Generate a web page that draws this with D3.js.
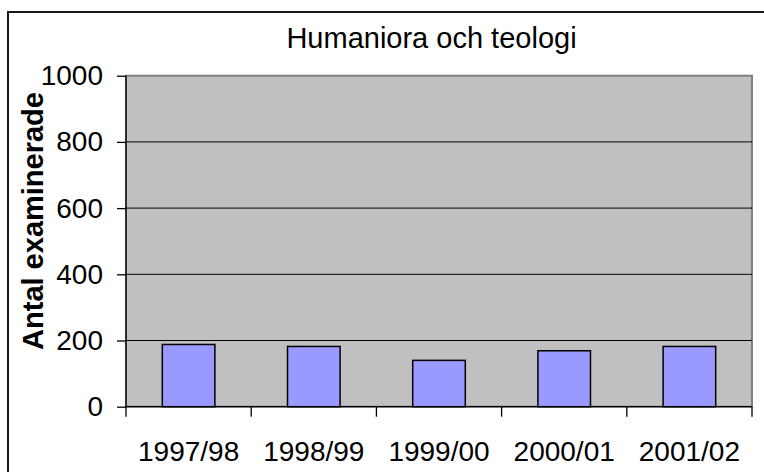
<html>
  <head>
    <style>
      body { margin: 0; background: #fff; }
      svg text { font-family: Arial, "Liberation Sans", sans-serif; fill: #000; }
    </style>
  </head>
  <body>
    <div id="chart"><svg></svg></div>
    <script src="https://d3js.org/d3.v7.min.js"></script>
    <script>
      var years = ["1997/98", "1998/99", "1999/00", "2000/01", "2001/02"];
      var examined = [188, 182, 140, 169, 182];
      var yTicks = [0, 200, 400, 600, 800, 1000];
      var chartTitle = "Humaniora och teologi";
      var yTitle = "Antal examinerade";

      var width = 764, height = 472;
      var margin = {top: 75.7, right: 12, bottom: 65.3, left: 126};
      var innerW = width - margin.left - margin.right;
      var innerH = height - margin.top - margin.bottom;

      var svg = d3.select("#chart svg").attr("width", width).attr("height", height);

      // outer chart border (runs off the right and bottom edges)
      svg.append("rect")
        .attr("x", 8).attr("y", 12)
        .attr("width", width + 20).attr("height", height + 20)
        .attr("fill", "#fff").attr("stroke", "#000").attr("stroke-width", 1.8);

      svg.append("text")
        .attr("x", 431.5).attr("y", 48)
        .attr("text-anchor", "middle")
        .style("font-size", "29px")
        .text(chartTitle);

      var g = svg.append("g").attr("transform", "translate(" + margin.left + "," + margin.top + ")");

      var x = d3.scaleBand().domain(years).range([0, innerW]).paddingInner(0.58).paddingOuter(0.29);
      var y = d3.scaleLinear().domain([0, 1000]).range([innerH, 0]);

      // plot area
      g.append("rect")
        .attr("x", 0).attr("y", 0).attr("width", innerW).attr("height", innerH)
        .attr("fill", "#c0c0c0").attr("stroke", "#808080").attr("stroke-width", 2);

      // gridlines
      g.selectAll("line.grid")
        .data(yTicks.filter(function(d) { return d > 0 && d < 1000; }))
        .enter().append("line")
        .attr("class", "grid")
        .attr("x1", 0).attr("x2", innerW)
        .attr("y1", function(d) { return y(d); }).attr("y2", function(d) { return y(d); })
        .attr("stroke", "#000").attr("stroke-width", 1);

      // bars
      g.selectAll("rect.bar")
        .data(years)
        .enter().append("rect")
        .attr("class", "bar")
        .attr("x", function(d) { return x(d); })
        .attr("width", x.bandwidth())
        .attr("y", function(d, i) { return y(examined[i]); })
        .attr("height", function(d, i) { return innerH - y(examined[i]); })
        .attr("fill", "#9999ff").attr("stroke", "#000").attr("stroke-width", 1.5);

      // y axis
      var yAxis = d3.axisLeft(y).tickValues(yTicks).tickFormat(d3.format("d")).tickSize(9).tickPadding(14);
      var ya = g.append("g").call(yAxis);
      ya.select(".domain").attr("stroke", "#000").attr("stroke-width", 1.3).attr("d", "M0," + innerH + "V0");
      ya.selectAll(".tick line").attr("stroke", "#000").attr("stroke-width", 1.3);
      ya.selectAll(".tick text").style("font-size", "28px").attr("font-family", null).attr("fill", "#000");

      // x axis with ticks at category boundaries
      var xa = g.append("g").attr("transform", "translate(0," + innerH + ")");
      xa.append("line").attr("x1", 0).attr("x2", innerW).attr("stroke", "#000").attr("stroke-width", 1.3);
      var bounds = d3.range(years.length + 1).map(function(i) { return i * x.step(); });
      xa.selectAll("line.tk").data(bounds).enter().append("line")
        .attr("class", "tk")
        .attr("x1", function(d) { return d; }).attr("x2", function(d) { return d; })
        .attr("y1", 0).attr("y2", 10)
        .attr("stroke", "#000").attr("stroke-width", 1.3);
      xa.selectAll("text").data(years).enter().append("text")
        .attr("x", function(d) { return x(d) + x.bandwidth() / 2; })
        .attr("y", 54.5)
        .attr("text-anchor", "middle")
        .style("font-size", "28px")
        .text(function(d) { return d; });

      // y title
      svg.append("text")
        .attr("transform", "translate(43,221) rotate(-90)")
        .attr("text-anchor", "middle")
        .style("font-size", "29px")
        .style("font-weight", "bold")
        .text(yTitle);
    </script>
  </body>
</html>
